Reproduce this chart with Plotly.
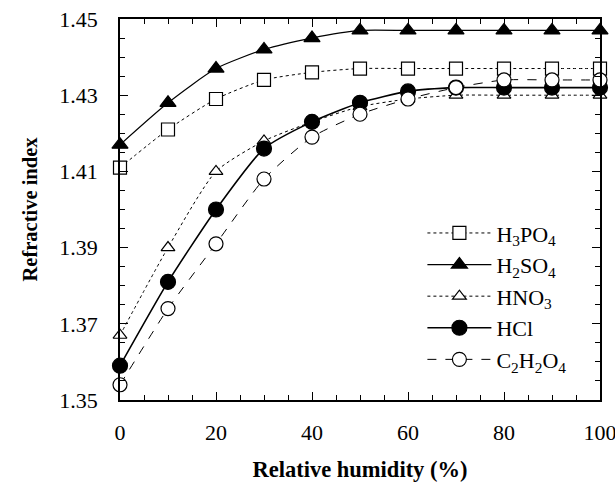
import plotly.graph_objects as go

rh = [0, 10, 20, 30, 40, 50, 60, 70, 80, 90, 100]
h3po4 = [1.411, 1.421, 1.429, 1.434, 1.436, 1.437, 1.437, 1.437, 1.437, 1.437, 1.437]
h2so4 = [1.417, 1.428, 1.437, 1.442, 1.445, 1.447, 1.447, 1.447, 1.447, 1.447, 1.447]
hno3 = [1.367, 1.390, 1.410, 1.418, 1.423, 1.427, 1.429, 1.430, 1.430, 1.430, 1.430]
hcl = [1.359, 1.381, 1.400, 1.416, 1.423, 1.428, 1.431, 1.432, 1.432, 1.432, 1.432]
c2h2o4 = [1.354, 1.374, 1.391, 1.408, 1.419, 1.425, 1.429, 1.432, 1.434, 1.434, 1.434]

names = ["H<sub>3</sub>PO<sub>4</sub>", "H<sub>2</sub>SO<sub>4</sub>", "HNO<sub>3</sub>",
         "HCl", "C<sub>2</sub>H<sub>2</sub>O<sub>4</sub>"]
series = [h3po4, h2so4, hno3, hcl, c2h2o4]
symbols = ["square", "triangle-up", "triangle-up", "circle", "circle"]
fills = ["white", "black", "white", "black", "white"]
sizes = [13, 14, 12, 15, 14]
dashes = ["dot", "solid", "dot", "solid", "dash"]
widths = [1, 1.2, 1, 1.6, 1]

FONT = "Liberation Serif, Times New Roman, serif"

fig = go.Figure()
for nm, ys, sym, fc, sz, ds, w in zip(names, series, symbols, fills, sizes, dashes, widths):
    fig.add_trace(go.Scatter(
        x=rh, y=ys, name=nm, mode="lines+markers",
        line=dict(color="black", width=w, dash=ds, shape="spline", smoothing=0.6),
        marker=dict(symbol=sym, size=sz, color=fc,
                    line=dict(color="black", width=1.2)),
        cliponaxis=False,
    ))

axis_common = dict(
    showline=True, linecolor="black", linewidth=1.5, mirror="allticks",
    ticks="inside", ticklen=8, tickwidth=1.2, tickcolor="black",
    showgrid=False, zeroline=False, automargin=False,
    tickfont=dict(family=FONT, size=22, color="black"),
    ticklabeloverflow="allow",
)

fig.update_xaxes(
    range=[-0.001, 100.001], tickvals=[0, 20, 40, 60, 80, 100], ticklabelstandoff=12,
    minor=dict(ticks="inside", tickvals=list(range(0, 101, 5)), ticklen=5, tickwidth=1,
               tickcolor="black"),
    title=dict(text="<b>Relative humidity (%)</b>", font=dict(family=FONT, size=22.5, color="black"),
               standoff=18),
    **axis_common,
)
fig.update_yaxes(
    range=[1.35, 1.45], tickvals=[1.35, 1.37, 1.39, 1.41, 1.43, 1.45], tickformat=".2f",
    ticklabelstandoff=16,
    minor=dict(ticks="inside", dtick=0.005, ticklen=5, tickwidth=1, tickcolor="black"),
    title=dict(text="<b>Refractive index</b>", font=dict(family=FONT, size=20.5, color="black"),
               standoff=16),
    **axis_common,
)

fig.update_layout(
    width=615, height=482,
    margin=dict(l=120, r=15, t=19, b=82),
    plot_bgcolor="white", paper_bgcolor="white",
    font=dict(family=FONT, color="black"),
    legend=dict(x=0.63, y=0.493, xanchor="left", yanchor="top",
                bgcolor="rgba(0,0,0,0)", font=dict(family=FONT, size=22, color="black"),
                tracegroupgap=0, itemwidth=64),
    showlegend=True,
)

fig.write_html("out.html")
